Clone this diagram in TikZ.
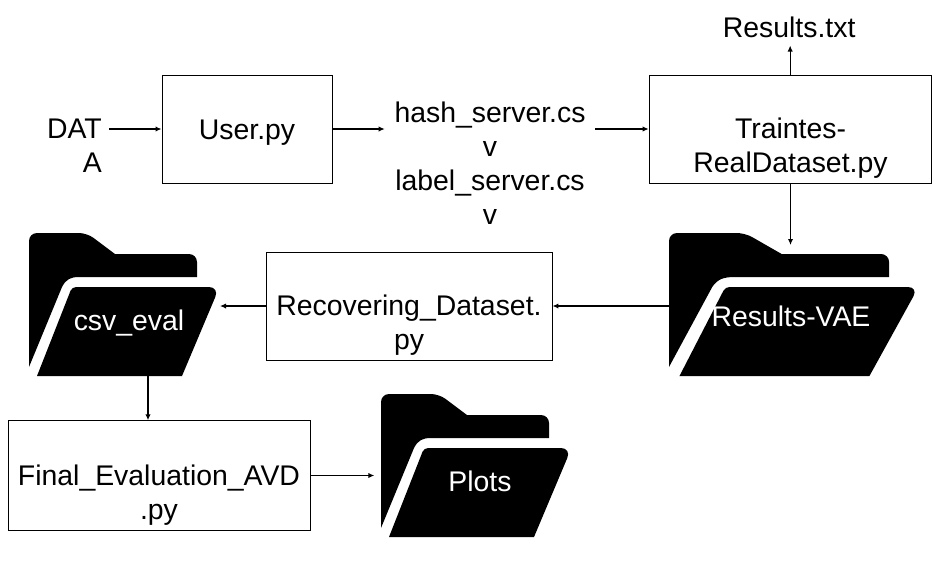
\documentclass[tikz,border=0pt]{standalone}
\usepackage{fontspec}
\setmainfont{Liberation Sans}
\usetikzlibrary{arrows.meta,positioning}

\begin{document}
\begin{tikzpicture}[
    x=0.75pt,y=-0.75pt,
    box/.style={draw,line width=0.7pt,align=center,font=\mainsize},
    txt/.style={align=center,font=\mainsize},
    folderlabel/.style={text=white,font=\mainsize},
    arrow/.style={-{Latex[length=4.5pt,width=4pt]},line width=0.9pt},
    folder/.pic={
        \fill (0,134) [rounded corners=6pt] -- (0,0) -- (58,0) [sharp corners] -- (86,21) [rounded corners=6pt] -- (168,21) [sharp corners] -- (168,44) -- (50,44) .. controls (42,44) and (37,46) .. (33,54) -- cycle;
        \fill (8,143) [rounded corners=3pt] -- (43,54) [rounded corners=8pt] -- (190.5,54) [sharp corners] -- (153,143) -- cycle;
        \coordinate (-top) at (97,12);
        \coordinate (-east) at (191,72);
        \coordinate (-west) at (0,72);
        \coordinate (-south) at (119,143);
    },
]
    \providecommand{\mainsize}{\fontsize{21.3}{25.5}\selectfont}
    \useasboundingbox (0,0) rectangle (942,587);

    \node[box,minimum width=127.5pt,minimum height=81pt] (user) at (247,129) {\rule{0pt}{20pt}User.py};
    \node[txt,anchor=east,inner xsep=5.25pt] (data) at (109,146) {DAT\\\hfill A};
    \node[txt,minimum width=157.5pt] (hash) at (490,163) {hash\_server.cs\\v\\label\_server.cs\\v};
    \node[box,minimum width=212pt,minimum height=81pt] (train) at (790.5,129) {\\[18.8pt]Traintes-\\RealDataset.py};
    \node[txt,above=24pt of train,xshift=-1pt] (restxt) {Results.txt};
    \node[box,minimum width=214.5pt,minimum height=81pt] (recover) at (409,306) {\\[18pt]Recovering\_Dataset.\\py};
    \node[box,minimum width=226.5pt,minimum height=80pt] (final) at (159,475.5) {\\[20pt]Final\_Evaluation\_AVD\\.py};

    \pic[xscale=1.31] (vae) at (669,233) {folder};
    \pic (csv) at (29,233) {folder};
    \pic (plots) at (381,394) {folder};

    \node[folderlabel] (vaelabel) at (791,316) {Results-VAE};
    \node[folderlabel] (csvlabel) at (129,323) {csv\_eval};
    \node[folderlabel] (plotslabel) at (480,481) {Plots};

    \draw[arrow] (data.east |- user) -- (user);
    \draw[arrow] (user) -- (user -| hash.west);
    \draw[arrow] (hash.east |- train) -- (train);
    \draw[arrow] (train.north -| restxt) ++(1,0) -- ++(0,-29);
    \draw[arrow] (train) -- (train |- vae-top);
    \draw[arrow] (recover -| vae-west) -- (recover);
    \draw[arrow] (recover) -- (recover -| csv-east);
    \draw[arrow] (csv-south) -- (csv-south |- final.north);
    \draw[arrow,shorten >=5pt] (final) -- (final -| plots-west);
\end{tikzpicture}
\end{document}
